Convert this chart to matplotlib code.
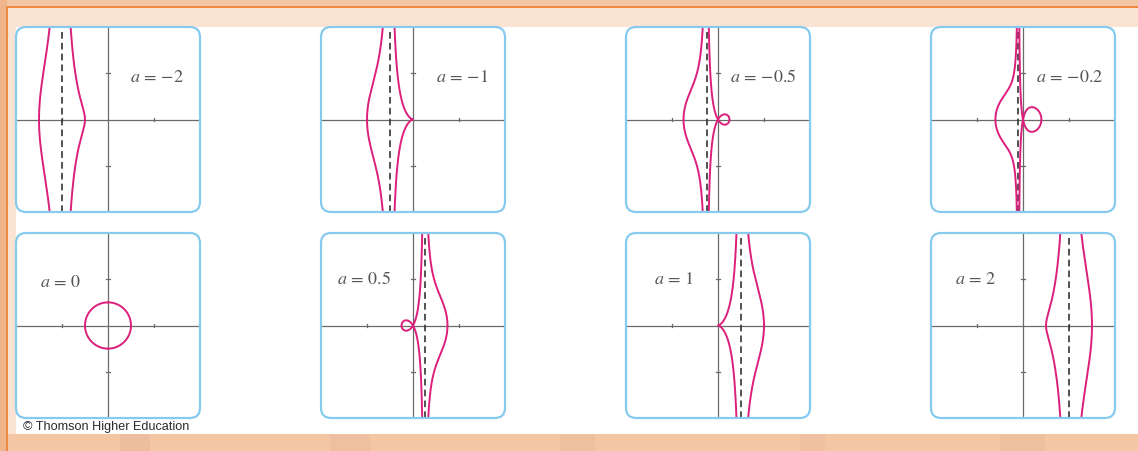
import matplotlib.pyplot as plt
import numpy as np
from matplotlib.patches import FancyBboxPatch, Rectangle

plt.rcParams["mathtext.fontset"] = "stix"

# parameter values of the family x = a + cos t, y = a tan t + sin t
a_values = [-2, -1, -0.5, -0.2, 0, 0.5, 1, 2]
label_pos = [(0.95, 1.85), (1.0, 1.85), (0.5, 1.85), (0.55, 1.85),
             (-2.95, 1.9), (-3.3, 2.0), (-2.8, 2.0), (-2.95, 2.0)]
tick_vals = [-2, 2]
lim = 4

CURVE = "#dc1f7c"
AXIS = "#6a6a6a"
FRAME = "#86cbee"

W, H = 1138, 451
fig = plt.figure(figsize=(W / 100, H / 100), dpi=100)


def fig_rect(x0, y0, x1, y1, **kw):
    # rectangle given in pixel coordinates from the top-left corner
    r = Rectangle((x0 / W, 1 - y1 / H), (x1 - x0) / W, (y1 - y0) / H,
                  transform=fig.transFigure, zorder=-10, **kw)
    fig.patches.append(r)


# page background
fig_rect(0, 0, W, H, facecolor="#f3c6a4", edgecolor="none")
fig_rect(0, 0, 7, H, facecolor="#efb489", edgecolor="none")
fig_rect(7, 7, W, 434, facecolor="#fae3d2", edgecolor="none")
fig_rect(16, 27, W, 434, facecolor="white", edgecolor="none")
for sx, sw, al in [(120, 30, 0.25), (330, 40, 0.18), (560, 35, 0.2), (800, 25, 0.15), (1000, 45, 0.2)]:
    fig_rect(sx, 434, sx + sw, H, facecolor="#d9a98a", edgecolor="none", alpha=al)
fig_rect(6, 6, W, 8, facecolor="#ee8a44", edgecolor="none")
fig_rect(6, 6, 8, H, facecolor="#ee8a44", edgecolor="none")

col_left = [16, 321, 626, 931]
row_top = [27, 233]
pw, ph = 184, 185

t1 = np.linspace(-np.pi / 2 + 1e-3, np.pi / 2 - 1e-3, 4000)
t2 = np.linspace(np.pi / 2 + 1e-3, 3 * np.pi / 2 - 1e-3, 4000)

for i, a in enumerate(a_values):
    r, c = divmod(i, 4)
    x0, y0 = col_left[c], row_top[r]
    ax = fig.add_axes([x0 / W, 1 - (y0 + ph) / H, pw / W, ph / H])
    ax.set_xlim(-lim, lim)
    ax.set_ylim(-lim, lim)
    ax.axis("off")

    box = FancyBboxPatch((0, 0), 1, 1, boxstyle="round,pad=0,rounding_size=0.055",
                         transform=ax.transAxes, facecolor="none",
                         edgecolor=FRAME, lw=1.6, clip_on=False, zorder=5)
    ax.add_patch(box)

    ax.axhline(0, color=AXIS, lw=0.9, zorder=1)
    ax.axvline(0, color=AXIS, lw=0.9, zorder=1)
    for tv in tick_vals:
        ax.plot([tv, tv], [-0.07, 0.07], color=AXIS, lw=0.9)
        ax.plot([-0.07, 0.07], [tv, tv], color=AXIS, lw=0.9)

    if a != 0:
        ax.axvline(a, color="#333333", lw=1.2, ls=(0, (4, 2.5)), zorder=2)

    for t in (t1, t2):
        x = a + np.cos(t)
        y = a * np.tan(t) + np.sin(t)
        y = np.where(np.abs(y) > 6, np.nan, y)
        ax.plot(x, y, color=CURVE, lw=1.4, zorder=3)

    lx, ly = label_pos[i]
    ax.text(lx, ly, r"$a\,=\,{%s}$" % a, fontsize=13,
            color="#555555", va="center", ha="left")

fig.text(23 / W, 1 - 427 / H, "© Thomson Higher Education", fontsize=9.1,
         color="#2a2a2a", va="center", ha="left", family="Liberation Sans")

fig.savefig("out.png", dpi=100)
